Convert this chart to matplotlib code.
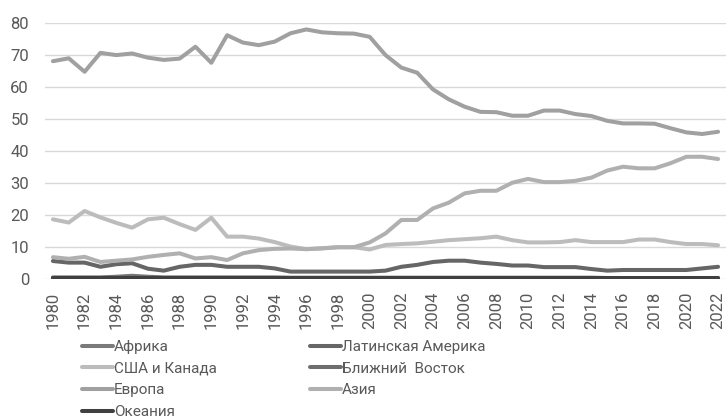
import matplotlib
matplotlib.use("Agg")
import matplotlib.pyplot as plt

years = list(range(1980, 2023))

europe = [68.0, 68.9, 64.7, 70.6, 69.9, 70.4, 69.1, 68.4, 68.8, 72.5,
          67.5, 76.1, 73.8, 73.0, 74.1, 76.7, 77.9, 77.0, 76.7, 76.6,
          75.6, 69.9, 66.0, 64.4, 59.2, 56.1, 53.8, 52.2, 52.1, 51.0,
          51.0, 52.6, 52.6, 51.5, 50.9, 49.4, 48.6, 48.6, 48.5, 47.1,
          45.8, 45.3, 46.0]
usa_canada = [18.7, 17.7, 21.3, 19.3, 17.6, 16.1, 18.7, 19.2, 17.2, 15.4,
              19.2, 13.3, 13.3, 12.7, 11.6, 10.2, 9.4, 9.6, 10.0, 10.0,
              9.3, 10.7, 11.0, 11.2, 11.7, 12.2, 12.5, 12.8, 13.3, 12.2,
              11.5, 11.5, 11.6, 12.2, 11.6, 11.6, 11.6, 12.4, 12.4, 11.6,
              11.0, 11.0, 10.6]
asia = [6.9, 6.4, 7.0, 5.4, 5.8, 6.2, 7.0, 7.6, 8.1, 6.5,
        6.9, 6.0, 8.1, 9.1, 9.5, 9.6, 9.4, 9.7, 10.0, 10.0,
        11.5, 14.3, 18.5, 18.5, 22.1, 23.9, 26.8, 27.6, 27.6, 30.1,
        31.3, 30.3, 30.3, 30.7, 31.7, 33.9, 35.1, 34.6, 34.6, 36.2,
        38.2, 38.2, 37.5]
latam = [5.7, 5.2, 5.2, 3.9, 4.7, 5.0, 3.3, 2.7, 3.9, 4.5,
         4.5, 3.9, 3.9, 3.9, 3.4, 2.4, 2.4, 2.4, 2.4, 2.4,
         2.4, 2.7, 3.9, 4.5, 5.4, 5.8, 5.8, 5.2, 4.8, 4.3,
         4.3, 3.8, 3.8, 3.8, 3.2, 2.7, 2.9, 2.9, 2.9, 2.9,
         2.9, 3.4, 3.9]
africa = [0.6, 0.6, 0.6, 0.6, 0.8, 1.1, 0.8, 0.6, 0.6, 0.6,
          0.6, 0.6, 0.6, 0.6, 0.6, 0.5, 0.5, 0.5, 0.5, 0.5,
          0.5, 0.5, 0.5, 0.5, 0.5, 0.5, 0.5, 0.5, 0.5, 0.5,
          0.5, 0.5, 0.5, 0.5, 0.5, 0.4, 0.4, 0.4, 0.4, 0.4,
          0.4, 0.4, 0.4]
mideast = [0.4, 0.4, 0.4, 0.4, 0.5, 0.6, 0.5, 0.4, 0.4, 0.4,
           0.4, 0.4, 0.4, 0.4, 0.4, 0.3, 0.3, 0.3, 0.3, 0.3,
           0.3, 0.3, 0.3, 0.3, 0.3, 0.3, 0.3, 0.3, 0.3, 0.3,
           0.3, 0.3, 0.3, 0.3, 0.3, 0.2, 0.3, 0.3, 0.3, 0.3,
           0.3, 0.3, 0.3]
oceania = [0.3] * 43

names = ["Африка", "Латинская Америка", "США и Канада", "Ближний  Восток",
         "Европа", "Азия", "Океания"]
series = [africa, latam, usa_canada, mideast, europe, asia, oceania]
colors = ["#7a7a7a", "#666666", "#bcbcbc", "#6e6e6e", "#a0a0a0", "#b0b0b0", "#404040"]

plt.rcParams['font.family'] = ['Roboto', 'DejaVu Sans']

fig = plt.figure(figsize=(7.26, 4.19), dpi=100)
ax = fig.add_axes([45 / 726, 1 - 279.3 / 419, 681 / 726, (279.3 - 22.7) / 419])

lines = {}
for name, vals, c in zip(names, series, colors):
    ln, = ax.plot(years, vals, color=c, lw=2.9, solid_capstyle='round',
                  solid_joinstyle='round', label=name)
    lines[name] = ln

ax.set_xlim(1979.5, 2022.5)
ax.set_ylim(0, 80)
ax.set_yticks(range(0, 81, 10))
ax.set_xticks(years[::2])
ax.set_xticklabels([str(y) for y in years[::2]])
ax.tick_params(axis='both', length=0, labelsize=12, colors="#595959")
ax.tick_params(axis='x', labelrotation=90, pad=9)
ax.tick_params(axis='y', pad=11.5)
ax.grid(axis='y', color="#d9d9d9", lw=1)
ax.set_axisbelow(True)
for s in ax.spines.values():
    s.set_visible(False)

left_names = ["Африка", "США и Канада", "Европа", "Океания"]
right_names = ["Латинская Америка", "Ближний  Восток", "Азия"]
common = dict(frameon=False, loc='upper left', fontsize=11, handlelength=2.0,
              handletextpad=0.1, labelspacing=0.5, labelcolor="#595959",
              borderaxespad=0, borderpad=0)
leg1 = fig.legend([lines[n] for n in left_names], left_names,
                  bbox_to_anchor=(82 / 726, 1 - 340 / 419), **common)
leg2 = fig.legend([lines[n] for n in right_names], right_names,
                  bbox_to_anchor=(310 / 726, 1 - 340 / 419), **common)

fig.savefig("out.png", dpi=100)
